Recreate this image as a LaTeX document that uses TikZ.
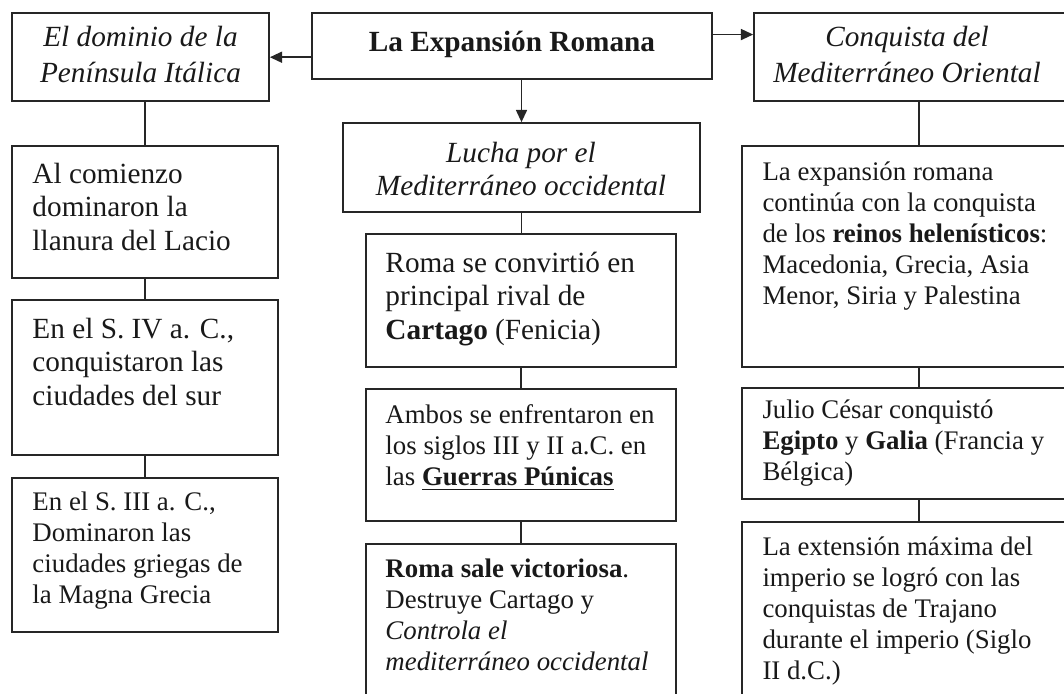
\documentclass[tikz,border=0pt]{standalone}
\usepackage{fontspec}
\setmainfont{Liberation Serif}
\usetikzlibrary{arrows.meta,fit,calc}
\newcommand\fsA{\fontsize{12}{13.8}\selectfont}
\newcommand\fsB{\fontsize{11}{12.8}\selectfont}
\newcommand\fsH{\fontsize{12}{14.7}\selectfont}
\begin{document}
\begin{tikzpicture}[x=0.41pt,y=-0.41pt,
  box/.style={draw=black!85, line width=0.7pt, inner sep=0pt},
  conn/.style={draw=black!85, line width=0.7pt},
  arr/.style={conn, -{Triangle[length=5pt,width=4.5pt]}},
  txt/.style={inner sep=0pt, anchor=base west, text=black!90},
  hdr/.style={inner sep=0pt, anchor=base, text=black!90}]
\clip (0,0) rectangle (1064,693);
% boxes
\node[box, fit={(12,13)(269,101)}] (h1) {};
\node[box, fit={(312,13)(712,79)}] (c) {};
\node[box, fit={(754,13)(1084,101)}] (h3) {};
\node[box, fit={(12,146)(278,278)}] (l1) {};
\node[box, fit={(12,300)(278,455)}] (l2) {};
\node[box, fit={(12,478)(278,632)}] (l3) {};
\node[box, fit={(343,123)(700,212)}] (lu) {};
\node[box, fit={(366,234)(676,367)}] (m1) {};
\node[box, fit={(366,389)(676,521)}] (m2) {};
\node[box, fit={(366,544)(676,720)}] (m3) {};
\node[box, fit={(742,146)(1096,367)}] (r1) {};
\node[box, fit={(742,388)(1096,499)}] (r2) {};
\node[box, fit={(742,522)(1096,720)}] (r3) {};
% connectors
\path ([yshift=-4.6pt]c.west) coordinate (la);
\path ([yshift=4.7pt]c.east) coordinate (ra);
\draw[arr] (la) -- (la -| h1.east);
\draw[arr] (ra) -- (ra -| h3.west);
\draw[arr] (c.south -| lu.north) -- (lu.north);
\draw[conn] (l1.north |- h1.south) -- (l1.north);
\draw[conn] (l1.south) -- (l2.north);
\draw[conn] (l2.south) -- (l3.north);
\draw[conn] (lu.south) -- (lu.south |- m1.north);
\draw[conn] (m1.south) -- (m2.north);
\draw[conn] (m2.south) -- (m3.north);
\draw[conn] (h3.south) -- (h3.south |- r1.north);
\draw[conn] (r1.south) -- (r2.north);
\draw[conn] (r2.south) -- (r3.north);
% header texts
\node[hdr] (th1) at (140.5,47) {\parbox[t]{220pt}{\centering\fsH\itshape El dominio de la\\Península Itálica}};
\node[hdr] (tc) at (512,52) {\parbox[t]{220pt}{\centering\fsA\bfseries La Expansión Romana}};
\node[hdr] (th3) at (907,47) {\parbox[t]{220pt}{\centering\fsH\itshape Conquista del\\Mediterráneo Oriental}};
\node[hdr] (tlu) at (521,162) {\parbox[t]{220pt}{\centering\fontsize{12}{13.6}\selectfont\itshape Lucha por el\\Mediterráneo occidental}};
% left column
\node[txt] (tl1) at (32,183) {\parbox[t]{140pt}{\fsA\raggedright Al comienzo\\dominaron la\\llanura del Lacio}};
\node[txt] (tl2) at (32,338) {\parbox[t]{140pt}{\fsA\raggedright En el S. IV a. C.,\\conquistaron las\\ciudades del sur}};
\node[txt] (tl3) at (32,510) {\parbox[t]{140pt}{\fsB\raggedright En el S. III a. C.,\\Dominaron las\\ciudades griegas de\\la Magna Grecia}};
% middle column
\node[txt] (tm1) at (385,272) {\parbox[t]{140pt}{\fsA\raggedright Roma se convirtió en\\principal rival de\\\textbf{Cartago} (Fenicia)}};
\node[txt] (tm2) at (385,423) {\parbox[t]{140pt}{\fsB\raggedright Ambos se enfrentaron en\\los siglos III y II a.C. en\\las \underline{\textbf{Guerras Púnicas}}}};
\node[txt] (tm3) at (385,577) {\parbox[t]{140pt}{\fsB\raggedright \textbf{Roma sale victoriosa}.\\Destruye Cartago y\\\textit{Controla el}\\\textit{mediterráneo occidental}}};
% right column
\node[txt] (tr1) at (762,180) {\parbox[t]{140pt}{\fsB\raggedright La expansión romana\\continúa con la conquista\\de los \textbf{reinos helenísticos}:\\Macedonia, Grecia, Asia\\Menor, Siria y Palestina}};
\node[txt] (tr2) at (762,418) {\parbox[t]{140pt}{\fsB\raggedright Julio César conquistó\\\textbf{Egipto} y \textbf{Galia} (Francia y\\Bélgica)}};
\node[txt] (tr3) at (762,555) {\parbox[t]{140pt}{\fsB\raggedright La extensión máxima del\\imperio se logró con las\\conquistas de Trajano\\durante el imperio (Siglo\\II d.C.)}};
\end{tikzpicture}
\end{document}
